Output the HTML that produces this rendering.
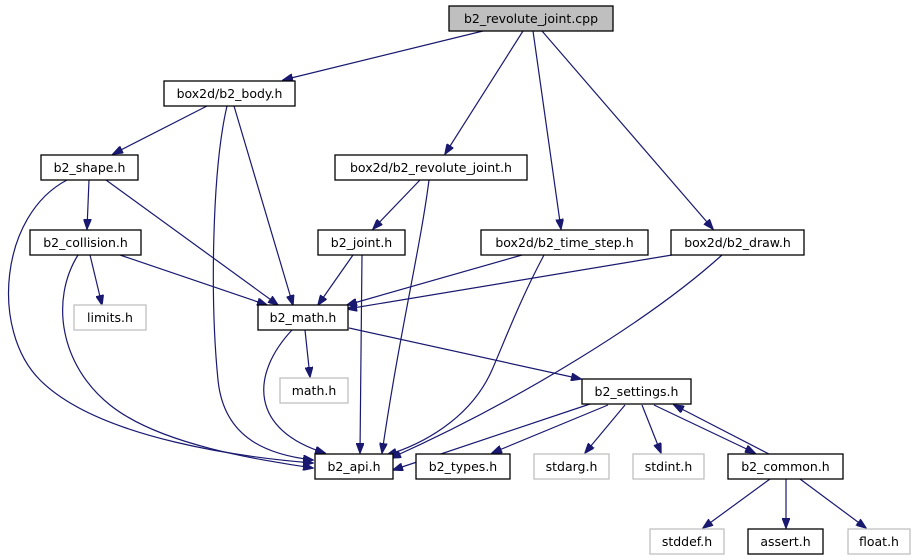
<!DOCTYPE html>
<html><head><meta charset="utf-8"><style>
html,body{margin:0;padding:0;background:#fff;}
svg{display:block;}
text{font-family:"DejaVu Sans","Liberation Sans",sans-serif;font-size:12.5px;fill:#000;text-anchor:middle;}
.n{fill:#fff;stroke:#000;stroke-width:1.3;}
.g{fill:#fff;stroke:#bfbfbf;stroke-width:1.3;}
.e{fill:none;stroke:#191970;stroke-width:1.2;marker-end:url(#a);}
</style></head><body>
<svg width="916" height="560" viewBox="0 0 916 560" xmlns="http://www.w3.org/2000/svg">
<defs><marker id="a" markerWidth="11" markerHeight="8" refX="10" refY="4" orient="auto" markerUnits="userSpaceOnUse"><path d="M0,0 L10.5,4 L0,8 z" fill="#191970" stroke="#191970"/></marker></defs>
<!-- edges -->
<path class="e" d="M483,31 L283,80"/>
<path class="e" d="M523,31 L445,154"/>
<path class="e" d="M533,31 L561,229"/>
<path class="e" d="M542,31 L713,229"/>
<path class="e" d="M207,106 L113,154"/>
<path class="e" d="M227,106 C212,170 210,300 218,380 C224,440 270,455 313,460"/>
<path class="e" d="M234,106 L293,305"/>
<path class="e" d="M89,180 L87,229"/>
<path class="e" d="M106,180 L278,305"/>
<path class="e" d="M67,180 C0,215 -10,330 40,380 C100,440 250,458 313,463"/>
<path class="e" d="M90,255 L102,305"/>
<path class="e" d="M120,255 L267,305"/>
<path class="e" d="M78,255 C50,300 60,365 110,405 C160,445 260,460 313,468"/>
<path class="e" d="M420,180 L373,229"/>
<path class="e" d="M429,180 C420,250 400,330 382,453"/>
<path class="e" d="M353,255 L318,305"/>
<path class="e" d="M362,255 L360,453"/>
<path class="e" d="M522,255 L347,305"/>
<path class="e" d="M544,255 C520,300 505,340 492,370 C470,420 420,445 387,455"/>
<path class="e" d="M672,255 L347,309"/>
<path class="e" d="M722,255 C650,320 520,400 391,458"/>
<path class="e" d="M305,330 L310,377"/>
<path class="e" d="M292,330 C250,375 250,430 325,453"/>
<path class="e" d="M349,328 L581,379"/>
<path class="e" d="M590,404 L393,470"/>
<path class="e" d="M608,405 L492,453"/>
<path class="e" d="M625,405 L585,453"/>
<path class="e" d="M642,405 L661,453"/>
<path class="e" d="M654,405 L755,453"/>
<path class="e" d="M769,454 L674,405"/>
<path class="e" d="M770,479 L703,528"/>
<path class="e" d="M786,479 L786,528"/>
<path class="e" d="M800,479 L866,528"/>
<!-- nodes -->
<rect x="449" y="6" width="164" height="25" fill="#bfbfbf" stroke="#000" stroke-width="1.3"/><text x="531" y="23">b2_revolute_joint.cpp</text>
<rect class="n" x="164" y="81" width="131" height="25"/><text x="229.5" y="98">box2d/b2_body.h</text>
<rect class="n" x="41" y="155" width="97" height="25"/><text x="89.5" y="172">b2_shape.h</text>
<rect class="n" x="335" y="155" width="192" height="25"/><text x="431" y="172">box2d/b2_revolute_joint.h</text>
<rect class="n" x="30" y="230" width="111" height="25"/><text x="85.5" y="247">b2_collision.h</text>
<rect class="n" x="318" y="230" width="87" height="25"/><text x="361.5" y="247">b2_joint.h</text>
<rect class="n" x="481" y="230" width="167" height="25"/><text x="564.5" y="247">box2d/b2_time_step.h</text>
<rect class="n" x="671" y="230" width="133" height="25"/><text x="737.5" y="247">box2d/b2_draw.h</text>
<rect class="g" x="74" y="305" width="72" height="25"/><text x="110" y="322">limits.h</text>
<rect class="n" x="258" y="305" width="90" height="25"/><text x="303" y="322">b2_math.h</text>
<rect class="g" x="280" y="378" width="68" height="25"/><text x="314" y="395">math.h</text>
<rect class="n" x="582" y="379" width="109" height="25"/><text x="636.5" y="396">b2_settings.h</text>
<rect class="n" x="315" y="454" width="78" height="25"/><text x="354" y="471">b2_api.h</text>
<rect class="n" x="416" y="454" width="94" height="25"/><text x="463" y="471">b2_types.h</text>
<rect class="g" x="534" y="454" width="75" height="25"/><text x="571.5" y="471">stdarg.h</text>
<rect class="g" x="633" y="454" width="71" height="25"/><text x="668.5" y="471">stdint.h</text>
<rect class="n" x="728" y="454" width="115" height="25"/><text x="785.5" y="471">b2_common.h</text>
<rect class="g" x="650" y="529" width="74" height="25"/><text x="687" y="546">stddef.h</text>
<rect class="n" x="748" y="529" width="75" height="25"/><text x="785.5" y="546">assert.h</text>
<rect class="g" x="848" y="529" width="62" height="25"/><text x="879" y="546">float.h</text>
</svg>
</body></html>
